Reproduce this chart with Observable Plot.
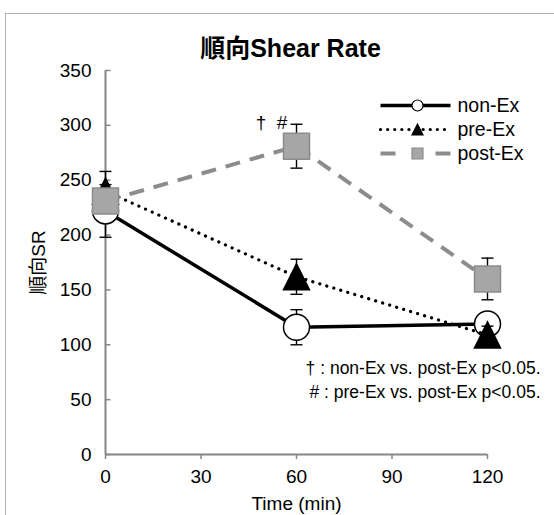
<!DOCTYPE html>
<html><head><meta charset="utf-8">
<script src="https://cdn.jsdelivr.net/npm/d3@7"></script>
<script src="https://cdn.jsdelivr.net/npm/@observablehq/plot@0.6"></script>
<style>
html,body{margin:0;padding:0;background:#fff;overflow:hidden;width:554px;height:515px}
#frame{position:absolute;left:5px;top:13px;width:600px;height:600px;border:1.5px solid #b3b3b3;box-sizing:border-box}
#chart{position:absolute;left:0;top:0}
</style></head><body>
<div id="frame"></div><div id="chart"></div>
<script>
const FONT = '"Liberation Sans", Arial, "Noto Sans CJK JP", sans-serif';
const title = "順向Shear Rate";
const yLabel = "順向SR";
const xLabel = "Time (min)";
const times = [0, 60, 120];
const xTicks = [0, 30, 60, 90, 120];
const yTicks = [0, 50, 100, 150, 200, 250, 300, 350];
const seriesNames = ["non-Ex", "pre-Ex", "post-Ex"];
const nonEx = [222, 116, 119];
const nonExErr = [24, 16, 8];
const preEx = [240, 162, 109];
const preExErr = [18, 16, 8];
const postEx = [231, 281, 160];
const postExErr = [10, 20, 19];
const sigLabel = "†  #";
const notes = ["† : non-Ex vs. post-Ex p<0.05.", "# : pre-Ex vs. post-Ex p<0.05."];

const AXIS = "#868686";
const GRAY_LINE = "#8c8c8c";
const GRAY_FILL = "#a6a6a6";

const triUp = {draw(c, size){const r = Math.sqrt(size/Math.PI); c.moveTo(0,-r); c.lineTo(r,r); c.lineTo(-r,r); c.closePath();}};
const square = {draw(c, size){const r = Math.sqrt(size/Math.PI); c.rect(-r,-r,2*r,2*r);}};
const hbar = len => ({draw(c){c.moveTo(-len,0); c.lineTo(len,0);}});
const tickRight = len => ({draw(c){c.moveTo(0,0); c.lineTo(len,0);}});

const mk = (vals, errs) => times.map((t,i) => ({time: t, value: vals[i], lo: vals[i]-errs[i], hi: vals[i]+errs[i]}));
const series = [
  {name: seriesNames[0], data: mk(nonEx, nonExErr), stroke: "black", width: 3.5, dash: null, cap: "butt",
   symbol: "circle", fill: "white", mstroke: "black", legendDash: null},
  {name: seriesNames[1], data: mk(preEx, preExErr), stroke: "black", width: 3.2, dash: "0.1 7.2", cap: "round",
   symbol: triUp, fill: "black", mstroke: "black", legendDash: "0.1 7"},
  {name: seriesNames[2], data: mk(postEx, postExErr), stroke: GRAY_LINE, width: 4, dash: "15 10", cap: "butt",
   symbol: square, fill: GRAY_FILL, mstroke: GRAY_LINE, legendDash: "15 40 15"}
];

const marks = [
  Plot.axisY({ticks: yTicks, tickSize: 0, tickPadding: 14, fontSize: 19, label: null}),
  Plot.dot(yTicks, {x: 0, y: d => d, symbol: tickRight(5), r: 5, stroke: AXIS, strokeWidth: 1.5, fill: "none"}),
  Plot.axisX({ticks: xTicks, tickSize: 5, tickPadding: 10, fontSize: 19, label: null, stroke: AXIS, strokeWidth: 1.5}),
  Plot.ruleX([0], {stroke: AXIS, strokeWidth: 2}),
  Plot.ruleY([0], {stroke: AXIS, strokeWidth: 2}),
  Plot.text([title], {frameAnchor: "top", dy: -22, dx: -6, fontSize: 25, fontWeight: "bold", lineAnchor: "middle"}),
  Plot.text([yLabel], {frameAnchor: "left", dx: -67, rotate: -90, fontSize: 19, textAnchor: "middle", lineAnchor: "middle"}),
  Plot.text([xLabel], {frameAnchor: "bottom", dy: 49, fontSize: 19, lineAnchor: "middle"}),
  ...notes.map((n, i) => Plot.text([n], {frameAnchor: "bottom-right", dx: 53, dy: -86 + 24*i, textAnchor: "end", lineAnchor: "middle", fontSize: 17.5})),
  Plot.text([sigLabel], {x: () => times[1], y: () => postEx[1] + postExErr[1], dx: -25, dy: -1, fontSize: 19})
];

for (const s of series) {
  marks.push(
    Plot.line(s.data, {x: "time", y: "value", stroke: s.stroke, strokeWidth: s.width, strokeDasharray: s.dash, strokeLinecap: s.cap}),
    Plot.ruleX(s.data, {x: "time", y1: "lo", y2: "hi", stroke: "black", strokeWidth: 1.4}),
    Plot.dot(s.data, {x: "time", y: "hi", symbol: hbar(6), r: 6, stroke: "black", strokeWidth: 1.4, fill: "none"}),
    Plot.dot(s.data, {x: "time", y: "lo", symbol: hbar(6), r: 6, stroke: "black", strokeWidth: 1.4, fill: "none"}),
    Plot.dot(s.data, {x: "time", y: "value", symbol: s.symbol, r: 13, fill: s.fill, stroke: s.mstroke, strokeWidth: 1.5})
  );
}

// legend
series.forEach((s, i) => {
  const dy = 35 + 24*i;
  marks.push(
    Plot.dot([s.name], {frameAnchor: "top-left", dx: 310, dy, symbol: hbar(35), r: 35, stroke: s.stroke, strokeWidth: s.width, strokeDasharray: s.legendDash, strokeLinecap: s.cap, fill: "none"}),
    Plot.dot([s.name], {frameAnchor: "top-left", dx: 312, dy, symbol: s.symbol, r: 5.5, fill: s.fill, stroke: s.mstroke, strokeWidth: 1.2}),
    Plot.text([s.name], {frameAnchor: "top-left", dx: 352, dy, textAnchor: "start", lineAnchor: "middle", fontSize: 19.5})
  );
});

const chart = Plot.plot({
  width: 554, height: 515,
  marginLeft: 105, marginRight: 67, marginTop: 70, marginBottom: 61,
  x: {domain: [0, 120]},
  y: {domain: [0, 350]},
  style: {fontFamily: FONT, fontSize: "19px", color: "black", background: "transparent", overflow: "visible"},
  marks
});
document.getElementById("chart").append(chart);
</script>
</body></html>
